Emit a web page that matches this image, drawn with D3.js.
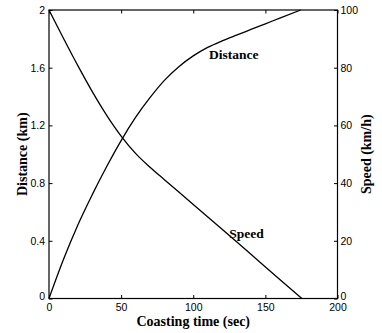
<!DOCTYPE html>
<html>
<head>
<meta charset="utf-8">
<script src="https://cdn.jsdelivr.net/npm/d3@7"></script>
<style>
  html, body { margin: 0; padding: 0; background: #fff; }
  svg { display: block; }
  .tick-label { font-family: "Liberation Sans", Arial, sans-serif; font-size: 10.5px; fill: #000; }
  .axis-title { font-family: "Liberation Serif", "Times New Roman", serif; font-size: 14px; font-weight: bold; fill: #000; }
  .curve-label { font-family: "Liberation Serif", "Times New Roman", serif; font-size: 13.5px; font-weight: bold; fill: #000; }
</style>
</head>
<body>
<svg id="chart" width="382" height="333"></svg>
<script>
// Coasting run: distance travelled and speed over time
const timeSec      = [0, 10, 20, 30, 40, 50, 60, 70, 80, 90, 100, 110, 120, 130, 140, 150, 160, 174.5];
const distanceKm   = [0, 0.27, 0.51, 0.72, 0.915, 1.095, 1.255, 1.392, 1.512, 1.607, 1.682, 1.741, 1.786, 1.826, 1.865, 1.904, 1.944, 2.0];

const speedTimeSec = [0, 10, 20, 30, 40, 50, 60, 70, 80, 100, 120, 140, 160, 175.3];
const speedKmh     = [100, 90.2, 80.7, 71.7, 63.5, 56.3, 50.3, 45.5, 41.2, 32.6, 24.0, 15.3, 6.6, 0];

const xTicks = [0, 50, 100, 150, 200];
const distTicks = [0, 0.4, 0.8, 1.2, 1.6, 2];
const speedTicks = [0, 20, 40, 60, 80, 100];

const svg = d3.select("#chart");
const L = 49, R = 337.5, T = 10, B = 298.5;

const x = d3.scaleLinear().domain([0, 200]).range([L, R]);
const yDist = d3.scaleLinear().domain([0, 2]).range([B, T]);
const ySpeed = d3.scaleLinear().domain([0, 100]).range([B, T]);

const tickLen = 3.5;

// Bottom axis with inward ticks; mirrored ticks on the top edge
const bottomAxis = d3.axisBottom(x).tickValues(xTicks).tickSizeInner(-tickLen).tickSizeOuter(0).tickPadding(5).tickFormat(d3.format("d"));
const gB = svg.append("g").attr("transform", `translate(0,${B})`).call(bottomAxis);
const topAxis = d3.axisTop(x).tickValues(xTicks).tickSizeInner(-tickLen).tickSizeOuter(0).tickFormat("");
const gT = svg.append("g").attr("transform", `translate(0,${T})`).call(topAxis);

// Left axis: distance
const leftAxis = d3.axisLeft(yDist).tickValues(distTicks).tickSizeInner(-tickLen).tickSizeOuter(0).tickPadding(4).tickFormat(d => d3.format("~g")(d));
const gL = svg.append("g").attr("transform", `translate(${L},0)`).call(leftAxis);

// Right axis: speed
const rightAxis = d3.axisRight(ySpeed).tickValues(speedTicks).tickSizeInner(-tickLen).tickSizeOuter(0).tickPadding(3).tickFormat(d3.format("d"));
const gR = svg.append("g").attr("transform", `translate(${R},0)`).call(rightAxis);

[gB, gT, gL, gR].forEach(g => {
  g.select(".domain").remove();
  g.selectAll(".tick line").attr("stroke", "#000").attr("stroke-width", 1);
  g.selectAll(".tick text").attr("class", "tick-label").attr("font-family", null).attr("font-size", null);
});
gB.selectAll(".tick text").attr("dy", "0.72em");
gL.selectAll(".tick text").filter(d => d === 0).attr("dy", "0.1em");
gR.selectAll(".tick text").filter(d => d === 0).attr("dy", "0.1em");

// Plot frame
svg.append("rect")
  .attr("x", L).attr("y", T)
  .attr("width", R - L).attr("height", B - T)
  .attr("fill", "none").attr("stroke", "#000").attr("stroke-width", 1.2);

// Curves
const distLine = d3.line()
  .x((d, i) => x(timeSec[i]))
  .y(d => yDist(d))
  .curve(d3.curveMonotoneX);
svg.append("path")
  .attr("d", distLine(distanceKm))
  .attr("fill", "none").attr("stroke", "#000").attr("stroke-width", 1.3);

const speedLine = d3.line()
  .x((d, i) => x(speedTimeSec[i]))
  .y(d => ySpeed(d))
  .curve(d3.curveMonotoneX);
svg.append("path")
  .attr("d", speedLine(speedKmh))
  .attr("fill", "none").attr("stroke", "#000").attr("stroke-width", 1.3);

// Curve labels
svg.append("text").attr("class", "curve-label")
  .attr("x", x(111)).attr("y", yDist(1.66)).text("Distance");
svg.append("text").attr("class", "curve-label")
  .attr("x", x(125)).attr("y", ySpeed(21)).text("Speed");

// Axis titles
svg.append("text").attr("class", "axis-title")
  .attr("text-anchor", "middle")
  .attr("x", (L + R) / 2).attr("y", 326)
  .text("Coasting time (sec)");

svg.append("text").attr("class", "axis-title")
  .attr("text-anchor", "middle")
  .attr("transform", `translate(27,${(T + B) / 2}) rotate(-90)`)
  .text("Distance (km)");

svg.append("text").attr("class", "axis-title")
  .attr("text-anchor", "middle")
  .attr("transform", `translate(371,${(T + B) / 2}) rotate(-90)`)
  .text("Speed (km/h)");
</script>
</body>
</html>
